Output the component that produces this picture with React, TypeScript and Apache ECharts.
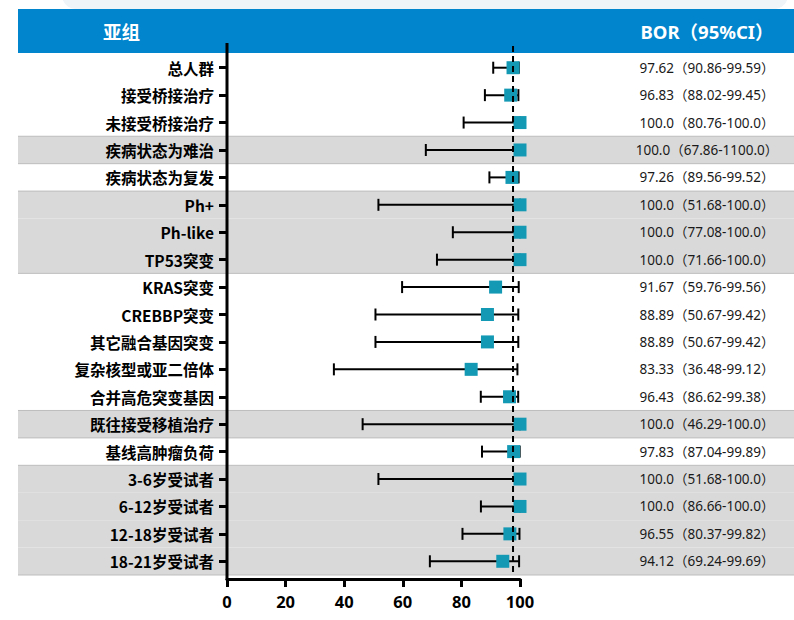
import React, { useEffect, useRef } from "react";
import * as echarts from "echarts";

// Subgroups, top to bottom
const subgroups = [
  "总人群",
  "接受桥接治疗",
  "未接受桥接治疗",
  "疾病状态为难治",
  "疾病状态为复发",
  "Ph+",
  "Ph-like",
  "TP53突变",
  "KRAS突变",
  "CREBBP突变",
  "其它融合基因突变",
  "复杂核型或亚二倍体",
  "合并高危突变基因",
  "既往接受移植治疗",
  "基线高肿瘤负荷",
  "3-6岁受试者",
  "6-12岁受试者",
  "12-18岁受试者",
  "18-21岁受试者",
];

// Best overall response rate (%) and its 95% CI
const bor = [97.62, 96.83, 100.0, 100.0, 97.26, 100.0, 100.0, 100.0, 91.67, 88.89, 88.89, 83.33, 96.43, 100.0, 97.83, 100.0, 100.0, 96.55, 94.12];
const ciLow = [90.86, 88.02, 80.76, 67.86, 89.56, 51.68, 77.08, 71.66, 59.76, 50.67, 50.67, 36.48, 86.62, 46.29, 87.04, 51.68, 86.66, 80.37, 69.24];
const ciHigh = [99.59, 99.45, 100.0, 1100.0, 99.52, 100.0, 100.0, 100.0, 99.56, 99.42, 99.42, 99.12, 99.38, 100.0, 99.89, 100.0, 100.0, 99.82, 99.69];

// Rows drawn on a grey band
const shaded = [0, 0, 0, 1, 0, 1, 1, 1, 0, 0, 0, 0, 0, 1, 0, 1, 1, 1, 1];

// x axis
const xMin = 0;
const xMax = 100;
const xStep = 20;

const fmt = (v: number) => (Number.isInteger(v) ? v.toFixed(1) : v.toFixed(2));
const valueLabels = bor.map((v, i) => `${fmt(v)}（${fmt(ciLow[i])}-${fmt(ciHigh[i])}）`);

const W = 794;
const H = 620;
const TABLE_LEFT = 18;
const TABLE_RIGHT = 794;

export default function App() {
  const ref = useRef<HTMLDivElement>(null);

  useEffect(() => {
    if (!ref.current) return;
    const chart = echarts.init(ref.current, undefined, { renderer: "svg" });

    const option: any = {
      animation: false,
      backgroundColor: "#ffffff",
      grid: { left: 227, right: 274, top: 54, bottom: 45 },
      xAxis: {
        type: "value",
        min: xMin,
        max: xMax,
        interval: xStep,
        position: "bottom",
        offset: 4,
        axisLine: { show: true, lineStyle: { color: "#000", width: 3 } },
        axisTick: { show: true, length: 8, lineStyle: { color: "#000", width: 3 } },
        axisLabel: {
          margin: 14,
          color: "#000",
          fontSize: 16.5,
          fontWeight: "bold",
          fontFamily: "Noto Sans",
        },
        splitLine: { show: false },
      },
      yAxis: [
        {
          type: "category",
          data: subgroups,
          inverse: true,
          position: "left",
          axisLine: { show: false },
          axisTick: {
            show: true,
            alignWithLabel: true,
            length: 8,
            lineStyle: { color: "#000", width: 3 },
          },
          axisLabel: {
            margin: 13,
            color: "#000",
            fontSize: 15.5,
            fontWeight: "bold",
            fontFamily: "Noto Sans CJK SC",
          },
          splitLine: { show: false },
        },
        {
          type: "category",
          data: valueLabels,
          inverse: true,
          position: "right",
          axisLine: { show: false },
          axisTick: { show: false },
          axisLabel: {
            margin: 187,
            align: "center",
            color: "#1a1a1a",
            fontSize: 13.5,
            fontFamily: "Noto Sans, Noto Sans CJK SC",
          },
          splitLine: { show: false },
        },
      ],
      graphic: [
        {
          type: "rect",
          z: -30,
          shape: { x: 62, y: -30, width: 726, height: 39, r: 14 },
          style: { fill: "#eff4f9" },
        },
        {
          type: "rect",
          z: -20,
          shape: { x: TABLE_LEFT, y: 9, width: TABLE_RIGHT - TABLE_LEFT, height: 44 },
          style: { fill: "#0185cd" },
        },
        {
          type: "text",
          z: 5,
          x: 121.5,
          y: 31,
          style: {
            text: "亚组",
            fill: "#ffffff",
            fontSize: 18.5,
            fontWeight: "bold",
            fontFamily: "Noto Sans CJK SC",
            align: "center",
            verticalAlign: "middle",
          },
        },
        {
          type: "text",
          z: 5,
          x: 707,
          y: 31,
          style: {
            text: "BOR（95%CI）",
            fill: "#ffffff",
            fontSize: 18.5,
            fontWeight: "bold",
            fontFamily: "Noto Sans, Noto Sans CJK SC",
            align: "center",
            verticalAlign: "middle",
          },
        },
        {
          type: "line",
          z: 20,
          shape: { x1: 227, y1: 43, x2: 227, y2: 580 },
          style: { stroke: "#000", lineWidth: 3 },
        },
      ],
      series: [
        {
          // grey row bands spanning the whole table width
          type: "custom",
          z: -10,
          clip: false,
          silent: true,
          encode: { x: 0, y: 1 },
          data: shaded.map((s, i) => [xMin, i, s]),
          renderItem: (params: any, api: any) => {
            const i = api.value(1);
            const s = api.value(2);
            const c = api.coord([xMin, i]);
            const h = api.size([0, 1])[1];
            const top = c[1] - h / 2;
            const bottom = c[1] + h / 2;
            const children: any[] = [];
            if (s) {
              children.push({
                type: "rect",
                shape: { x: TABLE_LEFT, y: top, width: TABLE_RIGHT - TABLE_LEFT, height: h },
                style: { fill: "#d9d9d9" },
              });
              const prev = i > 0 ? shaded[i - 1] : 0;
              const next = i < shaded.length - 1 ? shaded[i + 1] : 0;
              if (!prev) {
                children.push({
                  type: "line",
                  shape: { x1: TABLE_LEFT, y1: top, x2: TABLE_RIGHT, y2: top },
                  style: { stroke: "#bdbdbd", lineWidth: 1 },
                });
              }
              if (!next) {
                children.push({
                  type: "line",
                  shape: { x1: TABLE_LEFT, y1: bottom, x2: TABLE_RIGHT, y2: bottom },
                  style: { stroke: "#bdbdbd", lineWidth: 1 },
                });
              }
            }
            return { type: "group", children };
          },
        },
        {
          // 95% CI whiskers, clamped to the axis range
          type: "custom",
          z: 3,
          clip: false,
          encode: { x: [1, 2], y: 0 },
          data: subgroups.map((_, i) => [i, ciLow[i], ciHigh[i]]),
          renderItem: (params: any, api: any) => {
            const i = api.value(0);
            const lo = api.value(1);
            const hi = api.value(2);
            const p1 = api.coord([Math.max(lo, xMin), i]);
            const p2 = api.coord([Math.min(hi, xMax), i]);
            const cap = 6;
            const style = { stroke: "#000", lineWidth: 2 };
            const children: any[] = [
              { type: "line", shape: { x1: p1[0], y1: p1[1], x2: p2[0], y2: p2[1] }, style },
              { type: "line", shape: { x1: p1[0], y1: p1[1] - cap, x2: p1[0], y2: p1[1] + cap }, style },
            ];
            if (hi <= xMax) {
              children.push({
                type: "line",
                shape: { x1: p2[0], y1: p2[1] - cap, x2: p2[0], y2: p2[1] + cap },
                style,
              });
            }
            return { type: "group", children };
          },
        },
        {
          // point estimates
          type: "scatter",
          z: 4,
          clip: false,
          symbol: "rect",
          symbolSize: 13,
          itemStyle: { color: "#1499b4", opacity: 1 },
          data: bor.map((v, i) => [v, i]),
        },
        {
          // reference line at the overall response rate
          type: "custom",
          z: 6,
          clip: false,
          encode: { x: 0, y: 1 },
          data: [[bor[0], 0]],
          renderItem: (params: any, api: any) => {
            const x = api.coord([api.value(0), 0])[0];
            const cs = params.coordSys;
            return {
              type: "line",
              shape: { x1: x, y1: cs.y - 8, x2: x, y2: cs.y + cs.height },
              style: { stroke: "#000", lineWidth: 2, lineDash: [6, 4] },
            };
          },
        },
      ],
    };

    chart.setOption(option);
    return () => chart.dispose();
  }, []);

  return <div ref={ref} style={{ width: W, height: H, position: "absolute", left: 0, top: 0 }} />;
}
